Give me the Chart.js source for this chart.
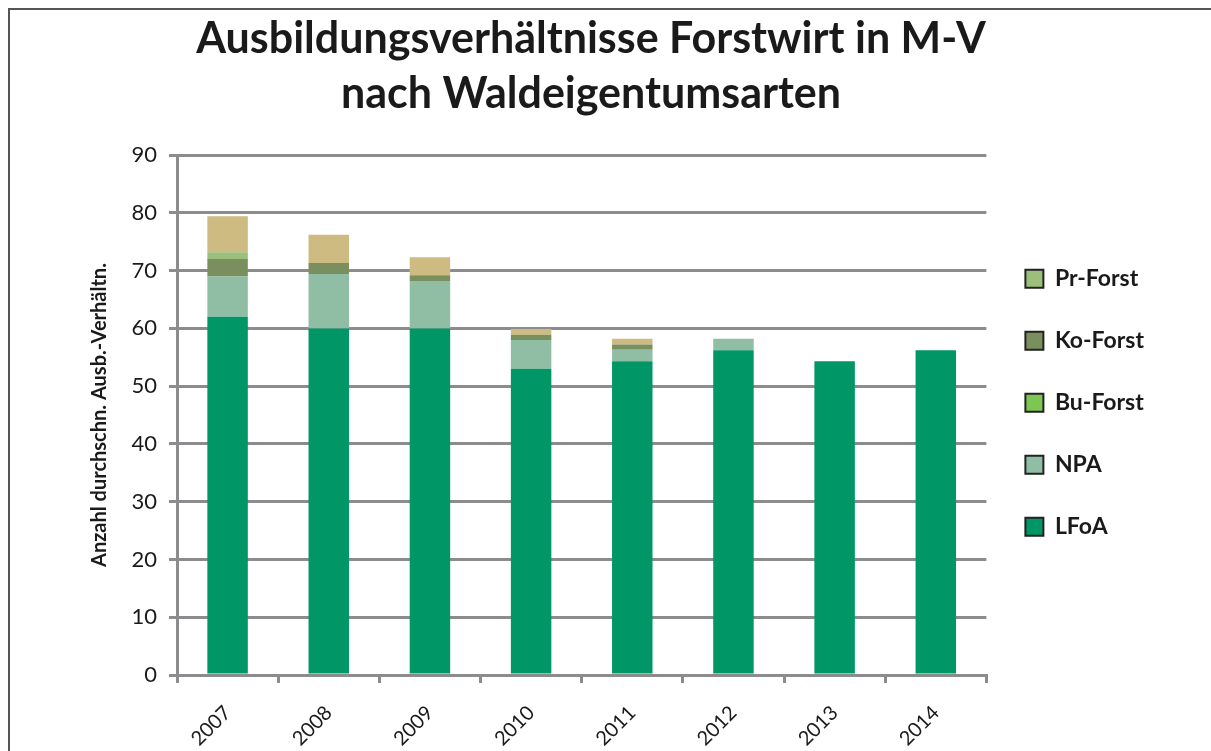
<!DOCTYPE html>
<html>
<head>
<meta charset="utf-8">
<script src="https://cdn.jsdelivr.net/npm/chart.js@4"></script>
<style>
  html, body { margin: 0; padding: 0; background: #fff; }
  #wrap { position: relative; width: 1211px; height: 751px; }
  #frame { position: absolute; left: 8px; top: 8px; width: 1210px; height: 760px;
           border-left: 2px solid #555; border-top: 2px solid #555; }
  canvas { position: absolute; left: 0; top: 0; }
</style>
</head>
<body>
<div id="wrap">
  <div id="frame"></div>
  <canvas id="myChart" width="1211" height="751"></canvas>
</div>
<script>
const years = ['2007', '2008', '2009', '2010', '2011', '2012', '2013', '2014']
const lfoa = [62, 60, 60, 53, 54.3, 56.2, 54.3, 56.2]
const npa = [7, 9.4, 8.2, 5, 2, 2, 0, 0]
const buForst = [0, 0, 0, 0, 0, 0, 0, 0]
const koForst = [3, 1.9, 1, 0.9, 0.9, 0, 0, 0]
const prForst = [1.2, 0, 0, 0, 0, 0, 0, 0]
const sonstige = [6.2, 4.9, 3.1, 1, 1, 0, 0, 0]
const yTicks = [0, 10, 20, 30, 40, 50, 60, 70, 80, 90]

const gridColor = '#8c8c8e'
const ctx = document.getElementById('myChart');

function bars(label, data, color) {
  return { label: label, data: data, backgroundColor: color, borderWidth: 0,
           barPercentage: 0.4, categoryPercentage: 1.0 }
}

new Chart(ctx, {
  type: 'bar',
  data: {
    labels: years,
    datasets: [
      bars('LFoA', lfoa, '#009666'),
      bars('NPA', npa, '#8fbea4'),
      bars('Bu-Forst', buForst, '#7dc653'),
      bars('Ko-Forst', koForst, '#7a8f5e'),
      bars('Pr-Forst', prForst, '#9dbf7c'),
      bars('Sonstige', sonstige, '#cdbb82')
    ]
  },
  options: {
    responsive: false,
    animation: false,
    layout: { padding: { left: 28, right: 57, top: 10, bottom: 0 } },
    plugins: {
      title: {
        display: true,
        text: ['Ausbildungsverhältnisse Forstwirt in M-V', 'nach Waldeigentumsarten'],
        color: '#1a1a1a',
        font: { family: 'Lato', size: 43, weight: 'bold', lineHeight: 1.28 },
        padding: { top: 2, bottom: 33 }
      },
      legend: {
        position: 'right',
        reverse: true,
        title: { display: true, text: '', font: { size: 12 }, padding: { top: 0, bottom: 30 } },
        labels: {
          color: '#1a1a1a',
          font: { family: 'Lato', size: 23, weight: 'bold' },
          boxWidth: 18,
          boxHeight: 18,
          padding: 39,
          filter: item => item.text !== 'Sonstige',
          generateLabels: chart => {
            const items = Chart.defaults.plugins.legend.labels.generateLabels(chart)
            items.forEach(it => { it.strokeStyle = '#222'; it.lineWidth = 2 })
            return items
          }
        }
      },
      tooltip: { enabled: false }
    },
    scales: {
      x: {
        stacked: true,
        afterFit: axis => { axis.height = 76 },
        grid: { display: true, drawOnChartArea: false, color: gridColor, lineWidth: 3, tickLength: 8, offset: true },
        border: { color: gridColor, width: 3 },
        ticks: { color: '#1a1a1a', font: { family: 'Lato', size: 20 }, minRotation: 45, maxRotation: 45, padding: 18 }
      },
      y: {
        stacked: true,
        min: 0,
        max: 90,
        afterBuildTicks: axis => { axis.ticks = yTicks.map(v => ({ value: v })) },
        afterFit: axis => { axis.width = 149 },
        grid: { color: gridColor, lineWidth: 3, tickLength: 8 },
        border: { color: gridColor, width: 3 },
        ticks: { color: '#1a1a1a', font: { family: 'Lato', size: 22 }, padding: 12 },
        title: {
          display: true,
          text: 'Anzahl durchschn. Ausb.-Verhältn.',
          color: '#1a1a1a',
          font: { family: 'Lato', size: 20, weight: 'bold' },
          padding: { top: 60, bottom: 0 }
        }
      }
    }
  }
});
</script>
</body>
</html>
